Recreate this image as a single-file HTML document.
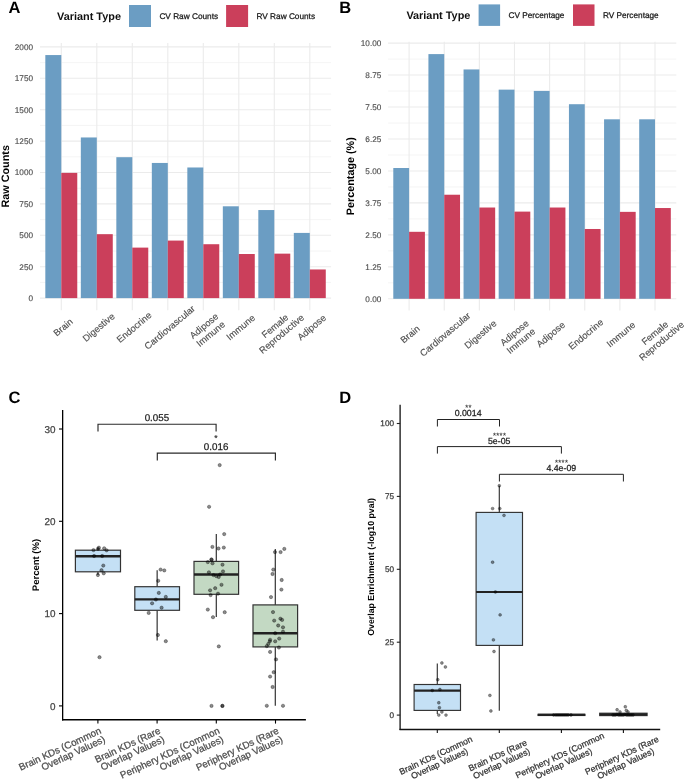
<!DOCTYPE html>
<html><head><meta charset="utf-8"><style>
html,body{margin:0;padding:0;background:#fff;}
svg{display:block;font-family:"Liberation Sans", sans-serif;will-change:transform;text-rendering:geometricPrecision;}
</style></head><body>
<svg width="685" height="780" viewBox="0 0 685 780">
<rect width="685" height="780" fill="#fff"/>
<line x1="40.0" x2="331.1" y1="282.40" y2="282.40" stroke="#ebebeb" stroke-width="0.55"/>
<line x1="40.0" x2="331.1" y1="251.00" y2="251.00" stroke="#ebebeb" stroke-width="0.55"/>
<line x1="40.0" x2="331.1" y1="219.60" y2="219.60" stroke="#ebebeb" stroke-width="0.55"/>
<line x1="40.0" x2="331.1" y1="188.20" y2="188.20" stroke="#ebebeb" stroke-width="0.55"/>
<line x1="40.0" x2="331.1" y1="156.80" y2="156.80" stroke="#ebebeb" stroke-width="0.55"/>
<line x1="40.0" x2="331.1" y1="125.40" y2="125.40" stroke="#ebebeb" stroke-width="0.55"/>
<line x1="40.0" x2="331.1" y1="94.00" y2="94.00" stroke="#ebebeb" stroke-width="0.55"/>
<line x1="40.0" x2="331.1" y1="62.60" y2="62.60" stroke="#ebebeb" stroke-width="0.55"/>
<line x1="40.0" x2="331.1" y1="298.10" y2="298.10" stroke="#ebebeb" stroke-width="1.1"/>
<line x1="40.0" x2="331.1" y1="266.70" y2="266.70" stroke="#ebebeb" stroke-width="1.1"/>
<line x1="40.0" x2="331.1" y1="235.30" y2="235.30" stroke="#ebebeb" stroke-width="1.1"/>
<line x1="40.0" x2="331.1" y1="203.90" y2="203.90" stroke="#ebebeb" stroke-width="1.1"/>
<line x1="40.0" x2="331.1" y1="172.50" y2="172.50" stroke="#ebebeb" stroke-width="1.1"/>
<line x1="40.0" x2="331.1" y1="141.10" y2="141.10" stroke="#ebebeb" stroke-width="1.1"/>
<line x1="40.0" x2="331.1" y1="109.70" y2="109.70" stroke="#ebebeb" stroke-width="1.1"/>
<line x1="40.0" x2="331.1" y1="78.30" y2="78.30" stroke="#ebebeb" stroke-width="1.1"/>
<line x1="40.0" x2="331.1" y1="46.90" y2="46.90" stroke="#ebebeb" stroke-width="1.1"/>
<line x1="61.30" x2="61.30" y1="42.9" y2="310.3" stroke="#ebebeb" stroke-width="1.1"/>
<line x1="96.80" x2="96.80" y1="42.9" y2="310.3" stroke="#ebebeb" stroke-width="1.1"/>
<line x1="132.30" x2="132.30" y1="42.9" y2="310.3" stroke="#ebebeb" stroke-width="1.1"/>
<line x1="167.80" x2="167.80" y1="42.9" y2="310.3" stroke="#ebebeb" stroke-width="1.1"/>
<line x1="203.30" x2="203.30" y1="42.9" y2="310.3" stroke="#ebebeb" stroke-width="1.1"/>
<line x1="238.80" x2="238.80" y1="42.9" y2="310.3" stroke="#ebebeb" stroke-width="1.1"/>
<line x1="274.30" x2="274.30" y1="42.9" y2="310.3" stroke="#ebebeb" stroke-width="1.1"/>
<line x1="309.80" x2="309.80" y1="42.9" y2="310.3" stroke="#ebebeb" stroke-width="1.1"/>
<rect x="45.32" y="55.06" width="15.97" height="243.04" fill="#6b9dc3"/>
<rect x="61.30" y="172.88" width="15.97" height="125.22" fill="#cb3f5b"/>
<rect x="80.83" y="137.46" width="15.97" height="160.64" fill="#6b9dc3"/>
<rect x="96.80" y="234.17" width="15.97" height="63.93" fill="#cb3f5b"/>
<rect x="116.33" y="157.18" width="15.97" height="140.92" fill="#6b9dc3"/>
<rect x="132.30" y="247.61" width="15.97" height="50.49" fill="#cb3f5b"/>
<rect x="151.83" y="162.95" width="15.97" height="135.15" fill="#6b9dc3"/>
<rect x="167.80" y="240.58" width="15.97" height="57.52" fill="#cb3f5b"/>
<rect x="187.33" y="167.48" width="15.97" height="130.62" fill="#6b9dc3"/>
<rect x="203.30" y="244.22" width="15.97" height="53.88" fill="#cb3f5b"/>
<rect x="222.83" y="206.29" width="15.97" height="91.81" fill="#6b9dc3"/>
<rect x="238.80" y="254.01" width="15.97" height="44.09" fill="#cb3f5b"/>
<rect x="258.32" y="210.05" width="15.97" height="88.05" fill="#6b9dc3"/>
<rect x="274.30" y="253.64" width="15.97" height="44.46" fill="#cb3f5b"/>
<rect x="293.82" y="232.91" width="15.97" height="65.19" fill="#6b9dc3"/>
<rect x="309.80" y="269.46" width="15.97" height="28.64" fill="#cb3f5b"/>
<text x="33.00" y="301.05" font-size="8.2" text-anchor="end" font-weight="normal" fill="#4d4d4d" stroke="#4d4d4d" stroke-width="0.14">0</text>
<text x="33.00" y="269.65" font-size="8.2" text-anchor="end" font-weight="normal" fill="#4d4d4d" stroke="#4d4d4d" stroke-width="0.14">250</text>
<text x="33.00" y="238.25" font-size="8.2" text-anchor="end" font-weight="normal" fill="#4d4d4d" stroke="#4d4d4d" stroke-width="0.14">500</text>
<text x="33.00" y="206.85" font-size="8.2" text-anchor="end" font-weight="normal" fill="#4d4d4d" stroke="#4d4d4d" stroke-width="0.14">750</text>
<text x="33.00" y="175.45" font-size="8.2" text-anchor="end" font-weight="normal" fill="#4d4d4d" stroke="#4d4d4d" stroke-width="0.14">1000</text>
<text x="33.00" y="144.05" font-size="8.2" text-anchor="end" font-weight="normal" fill="#4d4d4d" stroke="#4d4d4d" stroke-width="0.14">1250</text>
<text x="33.00" y="112.65" font-size="8.2" text-anchor="end" font-weight="normal" fill="#4d4d4d" stroke="#4d4d4d" stroke-width="0.14">1500</text>
<text x="33.00" y="81.25" font-size="8.2" text-anchor="end" font-weight="normal" fill="#4d4d4d" stroke="#4d4d4d" stroke-width="0.14">1750</text>
<text x="33.00" y="49.85" font-size="8.2" text-anchor="end" font-weight="normal" fill="#4d4d4d" stroke="#4d4d4d" stroke-width="0.14">2000</text>
<line x1="388.1" x2="676.3" y1="282.82" y2="282.82" stroke="#ebebeb" stroke-width="0.55"/>
<line x1="388.1" x2="676.3" y1="250.86" y2="250.86" stroke="#ebebeb" stroke-width="0.55"/>
<line x1="388.1" x2="676.3" y1="218.89" y2="218.89" stroke="#ebebeb" stroke-width="0.55"/>
<line x1="388.1" x2="676.3" y1="186.93" y2="186.93" stroke="#ebebeb" stroke-width="0.55"/>
<line x1="388.1" x2="676.3" y1="154.97" y2="154.97" stroke="#ebebeb" stroke-width="0.55"/>
<line x1="388.1" x2="676.3" y1="123.01" y2="123.01" stroke="#ebebeb" stroke-width="0.55"/>
<line x1="388.1" x2="676.3" y1="91.04" y2="91.04" stroke="#ebebeb" stroke-width="0.55"/>
<line x1="388.1" x2="676.3" y1="59.08" y2="59.08" stroke="#ebebeb" stroke-width="0.55"/>
<line x1="388.1" x2="676.3" y1="298.80" y2="298.80" stroke="#ebebeb" stroke-width="1.1"/>
<line x1="388.1" x2="676.3" y1="266.84" y2="266.84" stroke="#ebebeb" stroke-width="1.1"/>
<line x1="388.1" x2="676.3" y1="234.88" y2="234.88" stroke="#ebebeb" stroke-width="1.1"/>
<line x1="388.1" x2="676.3" y1="202.91" y2="202.91" stroke="#ebebeb" stroke-width="1.1"/>
<line x1="388.1" x2="676.3" y1="170.95" y2="170.95" stroke="#ebebeb" stroke-width="1.1"/>
<line x1="388.1" x2="676.3" y1="138.99" y2="138.99" stroke="#ebebeb" stroke-width="1.1"/>
<line x1="388.1" x2="676.3" y1="107.03" y2="107.03" stroke="#ebebeb" stroke-width="1.1"/>
<line x1="388.1" x2="676.3" y1="75.06" y2="75.06" stroke="#ebebeb" stroke-width="1.1"/>
<line x1="388.1" x2="676.3" y1="43.10" y2="43.10" stroke="#ebebeb" stroke-width="1.1"/>
<line x1="409.10" x2="409.10" y1="41.8" y2="310.5" stroke="#ebebeb" stroke-width="1.1"/>
<line x1="444.23" x2="444.23" y1="41.8" y2="310.5" stroke="#ebebeb" stroke-width="1.1"/>
<line x1="479.36" x2="479.36" y1="41.8" y2="310.5" stroke="#ebebeb" stroke-width="1.1"/>
<line x1="514.49" x2="514.49" y1="41.8" y2="310.5" stroke="#ebebeb" stroke-width="1.1"/>
<line x1="549.62" x2="549.62" y1="41.8" y2="310.5" stroke="#ebebeb" stroke-width="1.1"/>
<line x1="584.75" x2="584.75" y1="41.8" y2="310.5" stroke="#ebebeb" stroke-width="1.1"/>
<line x1="619.88" x2="619.88" y1="41.8" y2="310.5" stroke="#ebebeb" stroke-width="1.1"/>
<line x1="655.01" x2="655.01" y1="41.8" y2="310.5" stroke="#ebebeb" stroke-width="1.1"/>
<rect x="393.29" y="168.01" width="15.81" height="130.79" fill="#6b9dc3"/>
<rect x="409.10" y="231.81" width="15.81" height="66.99" fill="#cb3f5b"/>
<rect x="428.42" y="54.10" width="15.81" height="244.70" fill="#6b9dc3"/>
<rect x="444.23" y="194.73" width="15.81" height="104.07" fill="#cb3f5b"/>
<rect x="463.55" y="69.44" width="15.81" height="229.36" fill="#6b9dc3"/>
<rect x="479.36" y="207.52" width="15.81" height="91.28" fill="#cb3f5b"/>
<rect x="498.68" y="89.64" width="15.81" height="209.16" fill="#6b9dc3"/>
<rect x="514.49" y="211.61" width="15.81" height="87.19" fill="#cb3f5b"/>
<rect x="533.81" y="90.92" width="15.81" height="207.88" fill="#6b9dc3"/>
<rect x="549.62" y="207.52" width="15.81" height="91.28" fill="#cb3f5b"/>
<rect x="568.94" y="104.21" width="15.81" height="194.59" fill="#6b9dc3"/>
<rect x="584.75" y="228.99" width="15.81" height="69.81" fill="#cb3f5b"/>
<rect x="604.07" y="119.30" width="15.81" height="179.50" fill="#6b9dc3"/>
<rect x="619.88" y="211.86" width="15.81" height="86.94" fill="#cb3f5b"/>
<rect x="639.20" y="119.30" width="15.81" height="179.50" fill="#6b9dc3"/>
<rect x="655.01" y="208.03" width="15.81" height="90.77" fill="#cb3f5b"/>
<text x="381.30" y="301.75" font-size="8.2" text-anchor="end" font-weight="normal" fill="#4d4d4d" stroke="#4d4d4d" stroke-width="0.14">0.00</text>
<text x="381.30" y="269.79" font-size="8.2" text-anchor="end" font-weight="normal" fill="#4d4d4d" stroke="#4d4d4d" stroke-width="0.14">1.25</text>
<text x="381.30" y="237.82" font-size="8.2" text-anchor="end" font-weight="normal" fill="#4d4d4d" stroke="#4d4d4d" stroke-width="0.14">2.50</text>
<text x="381.30" y="205.86" font-size="8.2" text-anchor="end" font-weight="normal" fill="#4d4d4d" stroke="#4d4d4d" stroke-width="0.14">3.75</text>
<text x="381.30" y="173.90" font-size="8.2" text-anchor="end" font-weight="normal" fill="#4d4d4d" stroke="#4d4d4d" stroke-width="0.14">5.00</text>
<text x="381.30" y="141.94" font-size="8.2" text-anchor="end" font-weight="normal" fill="#4d4d4d" stroke="#4d4d4d" stroke-width="0.14">6.25</text>
<text x="381.30" y="109.98" font-size="8.2" text-anchor="end" font-weight="normal" fill="#4d4d4d" stroke="#4d4d4d" stroke-width="0.14">7.50</text>
<text x="381.30" y="78.01" font-size="8.2" text-anchor="end" font-weight="normal" fill="#4d4d4d" stroke="#4d4d4d" stroke-width="0.14">8.75</text>
<text x="381.30" y="46.05" font-size="8.2" text-anchor="end" font-weight="normal" fill="#4d4d4d" stroke="#4d4d4d" stroke-width="0.14">10.00</text>
<g transform="translate(60.64 324.39) rotate(-40)"><text x="0.00" y="7.05" font-size="9.4" text-anchor="middle" font-weight="normal" fill="#4d4d4d" stroke="#4d4d4d" stroke-width="0.14">Brain</text></g>
<g transform="translate(96.14 324.39) rotate(-40)"><text x="0.00" y="7.05" font-size="9.4" text-anchor="middle" font-weight="normal" fill="#4d4d4d" stroke="#4d4d4d" stroke-width="0.14">Digestive</text></g>
<g transform="translate(131.64 324.39) rotate(-40)"><text x="0.00" y="7.05" font-size="9.4" text-anchor="middle" font-weight="normal" fill="#4d4d4d" stroke="#4d4d4d" stroke-width="0.14">Endocrine</text></g>
<g transform="translate(167.14 324.39) rotate(-40)"><text x="0.00" y="7.05" font-size="9.4" text-anchor="middle" font-weight="normal" fill="#4d4d4d" stroke="#4d4d4d" stroke-width="0.14">Cardiovascular</text></g>
<g transform="translate(202.64 324.39) rotate(-40)"><text x="0.00" y="5.25" font-size="9.4" text-anchor="middle" font-weight="normal" fill="#4d4d4d" stroke="#4d4d4d" stroke-width="0.14">Adipose</text><text x="0.00" y="15.65" font-size="9.4" text-anchor="middle" font-weight="normal" fill="#4d4d4d" stroke="#4d4d4d" stroke-width="0.14">Immune</text></g>
<g transform="translate(238.14 324.39) rotate(-40)"><text x="0.00" y="7.05" font-size="9.4" text-anchor="middle" font-weight="normal" fill="#4d4d4d" stroke="#4d4d4d" stroke-width="0.14">Immune</text></g>
<g transform="translate(273.64 324.39) rotate(-40)"><text x="0.00" y="5.25" font-size="9.4" text-anchor="middle" font-weight="normal" fill="#4d4d4d" stroke="#4d4d4d" stroke-width="0.14">Female</text><text x="0.00" y="15.65" font-size="9.4" text-anchor="middle" font-weight="normal" fill="#4d4d4d" stroke="#4d4d4d" stroke-width="0.14">Reproductive</text></g>
<g transform="translate(309.14 324.39) rotate(-40)"><text x="0.00" y="7.05" font-size="9.4" text-anchor="middle" font-weight="normal" fill="#4d4d4d" stroke="#4d4d4d" stroke-width="0.14">Adipose</text></g>
<g transform="translate(407.64 331.39) rotate(-40)"><text x="0.00" y="7.05" font-size="9.4" text-anchor="middle" font-weight="normal" fill="#4d4d4d" stroke="#4d4d4d" stroke-width="0.14">Brain</text></g>
<g transform="translate(442.77 331.39) rotate(-40)"><text x="0.00" y="7.05" font-size="9.4" text-anchor="middle" font-weight="normal" fill="#4d4d4d" stroke="#4d4d4d" stroke-width="0.14">Cardiovascular</text></g>
<g transform="translate(477.90 331.39) rotate(-40)"><text x="0.00" y="7.05" font-size="9.4" text-anchor="middle" font-weight="normal" fill="#4d4d4d" stroke="#4d4d4d" stroke-width="0.14">Digestive</text></g>
<g transform="translate(513.03 331.39) rotate(-40)"><text x="0.00" y="5.25" font-size="9.4" text-anchor="middle" font-weight="normal" fill="#4d4d4d" stroke="#4d4d4d" stroke-width="0.14">Adipose</text><text x="0.00" y="15.65" font-size="9.4" text-anchor="middle" font-weight="normal" fill="#4d4d4d" stroke="#4d4d4d" stroke-width="0.14">Immune</text></g>
<g transform="translate(548.16 331.39) rotate(-40)"><text x="0.00" y="7.05" font-size="9.4" text-anchor="middle" font-weight="normal" fill="#4d4d4d" stroke="#4d4d4d" stroke-width="0.14">Adipose</text></g>
<g transform="translate(583.29 331.39) rotate(-40)"><text x="0.00" y="7.05" font-size="9.4" text-anchor="middle" font-weight="normal" fill="#4d4d4d" stroke="#4d4d4d" stroke-width="0.14">Endocrine</text></g>
<g transform="translate(618.42 331.39) rotate(-40)"><text x="0.00" y="7.05" font-size="9.4" text-anchor="middle" font-weight="normal" fill="#4d4d4d" stroke="#4d4d4d" stroke-width="0.14">Immune</text></g>
<g transform="translate(653.55 331.39) rotate(-40)"><text x="0.00" y="5.25" font-size="9.4" text-anchor="middle" font-weight="normal" fill="#4d4d4d" stroke="#4d4d4d" stroke-width="0.14">Female</text><text x="0.00" y="15.65" font-size="9.4" text-anchor="middle" font-weight="normal" fill="#4d4d4d" stroke="#4d4d4d" stroke-width="0.14">Reproductive</text></g>
<text x="8.70" y="176.30" font-size="10.8" text-anchor="middle" font-weight="bold" fill="#000" transform="rotate(-90 8.7 176.3)">Raw Counts</text>
<text x="354.20" y="176.20" font-size="10.8" text-anchor="middle" font-weight="bold" fill="#000" transform="rotate(-90 354.2 176.2)">Percentage (%)</text>
<text x="57.00" y="20.20" font-size="10.9" text-anchor="start" font-weight="bold" fill="#111">Variant Type</text>
<rect x="129.0" y="5.0" width="22" height="22" fill="#6b9dc3"/>
<text x="159.40" y="19.10" font-size="8.25" text-anchor="start" font-weight="normal" fill="#1a1a1a" stroke="#1a1a1a" stroke-width="0.25">CV Raw Counts</text>
<rect x="226.1" y="5.0" width="22" height="22" fill="#cb3f5b"/>
<text x="256.50" y="19.10" font-size="8.25" text-anchor="start" font-weight="normal" fill="#1a1a1a" stroke="#1a1a1a" stroke-width="0.25">RV Raw Counts</text>
<text x="406.40" y="19.00" font-size="10.9" text-anchor="start" font-weight="bold" fill="#111">Variant Type</text>
<rect x="478.6" y="4.4" width="21.5" height="21.5" fill="#6b9dc3"/>
<text x="508.50" y="18.20" font-size="8.25" text-anchor="start" font-weight="normal" fill="#1a1a1a" stroke="#1a1a1a" stroke-width="0.25">CV Percentage</text>
<rect x="573.0" y="4.4" width="21.5" height="21.5" fill="#cb3f5b"/>
<text x="602.90" y="18.20" font-size="8.25" text-anchor="start" font-weight="normal" fill="#1a1a1a" stroke="#1a1a1a" stroke-width="0.25">RV Percentage</text>
<text x="8.60" y="13.20" font-size="16.5" text-anchor="start" font-weight="bold" fill="#000">A</text>
<text x="339.20" y="13.20" font-size="16.5" text-anchor="start" font-weight="bold" fill="#000">B</text>
<text x="8.60" y="403.20" font-size="16.5" text-anchor="start" font-weight="bold" fill="#000">C</text>
<text x="339.20" y="403.20" font-size="16.5" text-anchor="start" font-weight="bold" fill="#000">D</text>
<line x1="62.65" x2="62.65" y1="410.1" y2="720.4" stroke="#000" stroke-width="1.3"/>
<line x1="62.0" x2="305.9" y1="719.75" y2="719.75" stroke="#000" stroke-width="1.4"/>
<line x1="59.0" x2="62.6" y1="705.90" y2="705.90" stroke="#000" stroke-width="1.1"/>
<text x="55.60" y="709.50" font-size="9.9" text-anchor="end" font-weight="normal" fill="#444" stroke="#444" stroke-width="0.25">0</text>
<line x1="59.0" x2="62.6" y1="613.60" y2="613.60" stroke="#000" stroke-width="1.1"/>
<text x="55.60" y="617.20" font-size="9.9" text-anchor="end" font-weight="normal" fill="#444" stroke="#444" stroke-width="0.25">10</text>
<line x1="59.0" x2="62.6" y1="521.30" y2="521.30" stroke="#000" stroke-width="1.1"/>
<text x="55.60" y="524.90" font-size="9.9" text-anchor="end" font-weight="normal" fill="#444" stroke="#444" stroke-width="0.25">20</text>
<line x1="59.0" x2="62.6" y1="429.00" y2="429.00" stroke="#000" stroke-width="1.1"/>
<text x="55.60" y="432.60" font-size="9.9" text-anchor="end" font-weight="normal" fill="#444" stroke="#444" stroke-width="0.25">30</text>
<line x1="97.9" x2="97.9" y1="719.6" y2="723.6" stroke="#000" stroke-width="1.1"/>
<line x1="157.1" x2="157.1" y1="719.6" y2="723.6" stroke="#000" stroke-width="1.1"/>
<line x1="216.3" x2="216.3" y1="719.6" y2="723.6" stroke="#000" stroke-width="1.1"/>
<line x1="275.5" x2="275.5" y1="719.6" y2="723.6" stroke="#000" stroke-width="1.1"/>
<line x1="97.95" x2="97.95" y1="547.70" y2="550.20" stroke="#333333" stroke-width="1.2"/>
<line x1="97.95" x2="97.95" y1="571.80" y2="575.00" stroke="#333333" stroke-width="1.2"/>
<rect x="75.40" y="550.20" width="45.10" height="21.60" fill="#c4e0f5" stroke="#333333" stroke-width="1.2"/>
<line x1="75.40" x2="120.50" y1="556.30" y2="556.30" stroke="#222" stroke-width="2.4"/>
<line x1="157.15" x2="157.15" y1="570.20" y2="586.70" stroke="#333333" stroke-width="1.2"/>
<line x1="157.15" x2="157.15" y1="610.30" y2="640.60" stroke="#333333" stroke-width="1.2"/>
<rect x="134.80" y="586.70" width="44.70" height="23.60" fill="#c4e0f5" stroke="#333333" stroke-width="1.2"/>
<line x1="134.80" x2="179.50" y1="599.40" y2="599.40" stroke="#222" stroke-width="2.4"/>
<line x1="216.30" x2="216.30" y1="534.10" y2="561.40" stroke="#333333" stroke-width="1.2"/>
<line x1="216.30" x2="216.30" y1="594.30" y2="617.00" stroke="#333333" stroke-width="1.2"/>
<rect x="194.00" y="561.40" width="44.60" height="32.90" fill="#c3d9c3" stroke="#333333" stroke-width="1.2"/>
<line x1="194.00" x2="238.60" y1="574.50" y2="574.50" stroke="#222" stroke-width="2.4"/>
<line x1="275.30" x2="275.30" y1="548.90" y2="604.90" stroke="#333333" stroke-width="1.2"/>
<line x1="275.30" x2="275.30" y1="646.90" y2="705.80" stroke="#333333" stroke-width="1.2"/>
<rect x="253.00" y="604.90" width="44.60" height="42.00" fill="#c3d9c3" stroke="#333333" stroke-width="1.2"/>
<line x1="253.00" x2="297.60" y1="633.20" y2="633.20" stroke="#222" stroke-width="2.4"/>
<circle cx="93.50" cy="550.10" r="1.65" fill="rgba(0,0,0,0.45)" stroke="rgba(0,0,0,0.45)" stroke-width="0.7"/>
<circle cx="98.90" cy="547.70" r="1.65" fill="rgba(0,0,0,0.45)" stroke="rgba(0,0,0,0.45)" stroke-width="0.7"/>
<circle cx="98.00" cy="548.80" r="1.65" fill="rgba(0,0,0,0.45)" stroke="rgba(0,0,0,0.45)" stroke-width="0.7"/>
<circle cx="104.20" cy="548.30" r="1.65" fill="rgba(0,0,0,0.45)" stroke="rgba(0,0,0,0.45)" stroke-width="0.7"/>
<circle cx="106.60" cy="550.30" r="1.65" fill="rgba(0,0,0,0.45)" stroke="rgba(0,0,0,0.45)" stroke-width="0.7"/>
<circle cx="94.10" cy="556.00" r="1.65" fill="rgba(0,0,0,0.45)" stroke="rgba(0,0,0,0.45)" stroke-width="0.7"/>
<circle cx="102.20" cy="556.00" r="1.65" fill="rgba(0,0,0,0.45)" stroke="rgba(0,0,0,0.45)" stroke-width="0.7"/>
<circle cx="103.30" cy="565.60" r="1.65" fill="rgba(0,0,0,0.45)" stroke="rgba(0,0,0,0.45)" stroke-width="0.7"/>
<circle cx="101.50" cy="570.20" r="1.65" fill="rgba(0,0,0,0.45)" stroke="rgba(0,0,0,0.45)" stroke-width="0.7"/>
<circle cx="103.70" cy="573.30" r="1.65" fill="rgba(0,0,0,0.45)" stroke="rgba(0,0,0,0.45)" stroke-width="0.7"/>
<circle cx="97.90" cy="575.00" r="1.65" fill="rgba(0,0,0,0.45)" stroke="rgba(0,0,0,0.45)" stroke-width="0.7"/>
<circle cx="99.50" cy="657.20" r="1.65" fill="rgba(0,0,0,0.45)" stroke="rgba(0,0,0,0.45)" stroke-width="0.7"/>
<circle cx="160.60" cy="569.60" r="1.65" fill="rgba(0,0,0,0.45)" stroke="rgba(0,0,0,0.45)" stroke-width="0.7"/>
<circle cx="164.30" cy="570.40" r="1.65" fill="rgba(0,0,0,0.45)" stroke="rgba(0,0,0,0.45)" stroke-width="0.7"/>
<circle cx="158.20" cy="580.80" r="1.65" fill="rgba(0,0,0,0.45)" stroke="rgba(0,0,0,0.45)" stroke-width="0.7"/>
<circle cx="158.80" cy="592.90" r="1.65" fill="rgba(0,0,0,0.45)" stroke="rgba(0,0,0,0.45)" stroke-width="0.7"/>
<circle cx="165.80" cy="596.90" r="1.65" fill="rgba(0,0,0,0.45)" stroke="rgba(0,0,0,0.45)" stroke-width="0.7"/>
<circle cx="155.90" cy="599.50" r="1.65" fill="rgba(0,0,0,0.45)" stroke="rgba(0,0,0,0.45)" stroke-width="0.7"/>
<circle cx="152.10" cy="603.30" r="1.65" fill="rgba(0,0,0,0.45)" stroke="rgba(0,0,0,0.45)" stroke-width="0.7"/>
<circle cx="161.60" cy="607.70" r="1.65" fill="rgba(0,0,0,0.45)" stroke="rgba(0,0,0,0.45)" stroke-width="0.7"/>
<circle cx="148.70" cy="612.90" r="1.65" fill="rgba(0,0,0,0.45)" stroke="rgba(0,0,0,0.45)" stroke-width="0.7"/>
<circle cx="157.90" cy="635.00" r="1.65" fill="rgba(0,0,0,0.45)" stroke="rgba(0,0,0,0.45)" stroke-width="0.7"/>
<circle cx="165.80" cy="641.20" r="1.65" fill="rgba(0,0,0,0.45)" stroke="rgba(0,0,0,0.45)" stroke-width="0.7"/>
<circle cx="219.70" cy="465.10" r="1.65" fill="rgba(0,0,0,0.45)" stroke="rgba(0,0,0,0.45)" stroke-width="0.7"/>
<circle cx="209.10" cy="506.80" r="1.65" fill="rgba(0,0,0,0.45)" stroke="rgba(0,0,0,0.45)" stroke-width="0.7"/>
<circle cx="224.20" cy="534.10" r="1.65" fill="rgba(0,0,0,0.45)" stroke="rgba(0,0,0,0.45)" stroke-width="0.7"/>
<circle cx="212.40" cy="546.90" r="1.65" fill="rgba(0,0,0,0.45)" stroke="rgba(0,0,0,0.45)" stroke-width="0.7"/>
<circle cx="218.50" cy="548.50" r="1.65" fill="rgba(0,0,0,0.45)" stroke="rgba(0,0,0,0.45)" stroke-width="0.7"/>
<circle cx="223.80" cy="547.60" r="1.65" fill="rgba(0,0,0,0.45)" stroke="rgba(0,0,0,0.45)" stroke-width="0.7"/>
<circle cx="211.40" cy="559.40" r="1.65" fill="rgba(0,0,0,0.45)" stroke="rgba(0,0,0,0.45)" stroke-width="0.7"/>
<circle cx="211.60" cy="559.80" r="1.65" fill="rgba(0,0,0,0.45)" stroke="rgba(0,0,0,0.45)" stroke-width="0.7"/>
<circle cx="207.80" cy="562.10" r="1.65" fill="rgba(0,0,0,0.45)" stroke="rgba(0,0,0,0.45)" stroke-width="0.7"/>
<circle cx="212.50" cy="563.30" r="1.65" fill="rgba(0,0,0,0.45)" stroke="rgba(0,0,0,0.45)" stroke-width="0.7"/>
<circle cx="222.50" cy="564.70" r="1.65" fill="rgba(0,0,0,0.45)" stroke="rgba(0,0,0,0.45)" stroke-width="0.7"/>
<circle cx="208.90" cy="572.30" r="1.65" fill="rgba(0,0,0,0.45)" stroke="rgba(0,0,0,0.45)" stroke-width="0.7"/>
<circle cx="223.00" cy="571.40" r="1.65" fill="rgba(0,0,0,0.45)" stroke="rgba(0,0,0,0.45)" stroke-width="0.7"/>
<circle cx="213.50" cy="575.10" r="1.65" fill="rgba(0,0,0,0.45)" stroke="rgba(0,0,0,0.45)" stroke-width="0.7"/>
<circle cx="216.30" cy="576.10" r="1.65" fill="rgba(0,0,0,0.45)" stroke="rgba(0,0,0,0.45)" stroke-width="0.7"/>
<circle cx="220.10" cy="574.50" r="1.65" fill="rgba(0,0,0,0.45)" stroke="rgba(0,0,0,0.45)" stroke-width="0.7"/>
<circle cx="218.70" cy="577.00" r="1.65" fill="rgba(0,0,0,0.45)" stroke="rgba(0,0,0,0.45)" stroke-width="0.7"/>
<circle cx="221.50" cy="584.80" r="1.65" fill="rgba(0,0,0,0.45)" stroke="rgba(0,0,0,0.45)" stroke-width="0.7"/>
<circle cx="215.20" cy="588.20" r="1.65" fill="rgba(0,0,0,0.45)" stroke="rgba(0,0,0,0.45)" stroke-width="0.7"/>
<circle cx="210.10" cy="590.30" r="1.65" fill="rgba(0,0,0,0.45)" stroke="rgba(0,0,0,0.45)" stroke-width="0.7"/>
<circle cx="210.60" cy="595.10" r="1.65" fill="rgba(0,0,0,0.45)" stroke="rgba(0,0,0,0.45)" stroke-width="0.7"/>
<circle cx="218.00" cy="593.70" r="1.65" fill="rgba(0,0,0,0.45)" stroke="rgba(0,0,0,0.45)" stroke-width="0.7"/>
<circle cx="207.80" cy="609.60" r="1.65" fill="rgba(0,0,0,0.45)" stroke="rgba(0,0,0,0.45)" stroke-width="0.7"/>
<circle cx="224.70" cy="612.20" r="1.65" fill="rgba(0,0,0,0.45)" stroke="rgba(0,0,0,0.45)" stroke-width="0.7"/>
<circle cx="213.00" cy="617.20" r="1.65" fill="rgba(0,0,0,0.45)" stroke="rgba(0,0,0,0.45)" stroke-width="0.7"/>
<circle cx="218.80" cy="646.40" r="1.65" fill="rgba(0,0,0,0.45)" stroke="rgba(0,0,0,0.45)" stroke-width="0.7"/>
<circle cx="211.50" cy="705.90" r="1.65" fill="rgba(0,0,0,0.45)" stroke="rgba(0,0,0,0.45)" stroke-width="0.7"/>
<circle cx="222.40" cy="705.90" r="1.65" fill="rgba(0,0,0,0.45)" stroke="rgba(0,0,0,0.45)" stroke-width="0.7"/>
<circle cx="222.40" cy="705.90" r="1.65" fill="rgba(0,0,0,0.45)" stroke="rgba(0,0,0,0.45)" stroke-width="0.7"/>
<circle cx="275.00" cy="552.10" r="1.65" fill="rgba(0,0,0,0.45)" stroke="rgba(0,0,0,0.45)" stroke-width="0.7"/>
<circle cx="280.60" cy="552.10" r="1.65" fill="rgba(0,0,0,0.45)" stroke="rgba(0,0,0,0.45)" stroke-width="0.7"/>
<circle cx="284.30" cy="548.90" r="1.65" fill="rgba(0,0,0,0.45)" stroke="rgba(0,0,0,0.45)" stroke-width="0.7"/>
<circle cx="273.30" cy="569.60" r="1.65" fill="rgba(0,0,0,0.45)" stroke="rgba(0,0,0,0.45)" stroke-width="0.7"/>
<circle cx="272.50" cy="574.00" r="1.65" fill="rgba(0,0,0,0.45)" stroke="rgba(0,0,0,0.45)" stroke-width="0.7"/>
<circle cx="281.70" cy="580.00" r="1.65" fill="rgba(0,0,0,0.45)" stroke="rgba(0,0,0,0.45)" stroke-width="0.7"/>
<circle cx="281.40" cy="589.60" r="1.65" fill="rgba(0,0,0,0.45)" stroke="rgba(0,0,0,0.45)" stroke-width="0.7"/>
<circle cx="271.00" cy="597.10" r="1.65" fill="rgba(0,0,0,0.45)" stroke="rgba(0,0,0,0.45)" stroke-width="0.7"/>
<circle cx="273.00" cy="612.10" r="1.65" fill="rgba(0,0,0,0.45)" stroke="rgba(0,0,0,0.45)" stroke-width="0.7"/>
<circle cx="274.20" cy="620.60" r="1.65" fill="rgba(0,0,0,0.45)" stroke="rgba(0,0,0,0.45)" stroke-width="0.7"/>
<circle cx="280.40" cy="618.70" r="1.65" fill="rgba(0,0,0,0.45)" stroke="rgba(0,0,0,0.45)" stroke-width="0.7"/>
<circle cx="282.10" cy="619.90" r="1.65" fill="rgba(0,0,0,0.45)" stroke="rgba(0,0,0,0.45)" stroke-width="0.7"/>
<circle cx="278.20" cy="625.50" r="1.65" fill="rgba(0,0,0,0.45)" stroke="rgba(0,0,0,0.45)" stroke-width="0.7"/>
<circle cx="283.00" cy="627.30" r="1.65" fill="rgba(0,0,0,0.45)" stroke="rgba(0,0,0,0.45)" stroke-width="0.7"/>
<circle cx="283.00" cy="631.70" r="1.65" fill="rgba(0,0,0,0.45)" stroke="rgba(0,0,0,0.45)" stroke-width="0.7"/>
<circle cx="275.20" cy="633.20" r="1.65" fill="rgba(0,0,0,0.45)" stroke="rgba(0,0,0,0.45)" stroke-width="0.7"/>
<circle cx="279.20" cy="638.60" r="1.65" fill="rgba(0,0,0,0.45)" stroke="rgba(0,0,0,0.45)" stroke-width="0.7"/>
<circle cx="275.20" cy="641.30" r="1.65" fill="rgba(0,0,0,0.45)" stroke="rgba(0,0,0,0.45)" stroke-width="0.7"/>
<circle cx="270.10" cy="639.80" r="1.65" fill="rgba(0,0,0,0.45)" stroke="rgba(0,0,0,0.45)" stroke-width="0.7"/>
<circle cx="269.80" cy="641.30" r="1.65" fill="rgba(0,0,0,0.45)" stroke="rgba(0,0,0,0.45)" stroke-width="0.7"/>
<circle cx="268.30" cy="643.90" r="1.65" fill="rgba(0,0,0,0.45)" stroke="rgba(0,0,0,0.45)" stroke-width="0.7"/>
<circle cx="266.80" cy="646.10" r="1.65" fill="rgba(0,0,0,0.45)" stroke="rgba(0,0,0,0.45)" stroke-width="0.7"/>
<circle cx="278.90" cy="647.50" r="1.65" fill="rgba(0,0,0,0.45)" stroke="rgba(0,0,0,0.45)" stroke-width="0.7"/>
<circle cx="270.10" cy="651.90" r="1.65" fill="rgba(0,0,0,0.45)" stroke="rgba(0,0,0,0.45)" stroke-width="0.7"/>
<circle cx="276.00" cy="659.40" r="1.65" fill="rgba(0,0,0,0.45)" stroke="rgba(0,0,0,0.45)" stroke-width="0.7"/>
<circle cx="273.70" cy="672.20" r="1.65" fill="rgba(0,0,0,0.45)" stroke="rgba(0,0,0,0.45)" stroke-width="0.7"/>
<circle cx="270.10" cy="676.60" r="1.65" fill="rgba(0,0,0,0.45)" stroke="rgba(0,0,0,0.45)" stroke-width="0.7"/>
<circle cx="272.60" cy="687.00" r="1.65" fill="rgba(0,0,0,0.45)" stroke="rgba(0,0,0,0.45)" stroke-width="0.7"/>
<circle cx="266.80" cy="705.80" r="1.65" fill="rgba(0,0,0,0.45)" stroke="rgba(0,0,0,0.45)" stroke-width="0.7"/>
<circle cx="283.00" cy="705.80" r="1.65" fill="rgba(0,0,0,0.45)" stroke="rgba(0,0,0,0.45)" stroke-width="0.7"/>
<path d="M98.0,431.5 V424.2 H216.1 V431.5" fill="none" stroke="#2a2a2a" stroke-width="1.15"/>
<text x="156.90" y="421.30" font-size="9.8" text-anchor="middle" font-weight="normal" fill="#222" stroke="#222" stroke-width="0.25">0.055</text>
<path d="M157.3,460.6 V453.1 H275.4 V460.6" fill="none" stroke="#2a2a2a" stroke-width="1.15"/>
<text x="216.10" y="450.10" font-size="9.8" text-anchor="middle" font-weight="normal" fill="#222" stroke="#222" stroke-width="0.25">0.016</text>
<text x="216.00" y="441.00" font-size="8.6" text-anchor="middle" font-weight="500" fill="#333" stroke="#333" stroke-width="0.2">*</text>
<text x="39.10" y="565.00" font-size="9.5" text-anchor="middle" font-weight="bold" fill="#000" transform="rotate(-90 39.1 565.0)">Percent (%)</text>
<g transform="translate(101.90 733.00) rotate(-25)"><text x="0.00" y="0.00" font-size="9.75" text-anchor="end" font-weight="normal" fill="#4d4d4d" stroke="#4d4d4d" stroke-width="0.25">Brain KDs (Common</text><text x="0.00" y="9.50" font-size="9.75" text-anchor="end" font-weight="normal" fill="#4d4d4d" stroke="#4d4d4d" stroke-width="0.25">Overlap Values)</text></g>
<g transform="translate(161.10 733.00) rotate(-25)"><text x="0.00" y="0.00" font-size="9.75" text-anchor="end" font-weight="normal" fill="#4d4d4d" stroke="#4d4d4d" stroke-width="0.25">Brain KDs (Rare</text><text x="0.00" y="9.50" font-size="9.75" text-anchor="end" font-weight="normal" fill="#4d4d4d" stroke="#4d4d4d" stroke-width="0.25">Overlap Values)</text></g>
<g transform="translate(220.30 733.00) rotate(-25)"><text x="0.00" y="0.00" font-size="9.75" text-anchor="end" font-weight="normal" fill="#4d4d4d" stroke="#4d4d4d" stroke-width="0.25">Periphery KDs (Common</text><text x="0.00" y="9.50" font-size="9.75" text-anchor="end" font-weight="normal" fill="#4d4d4d" stroke="#4d4d4d" stroke-width="0.25">Overlap Values)</text></g>
<g transform="translate(279.50 733.00) rotate(-25)"><text x="0.00" y="0.00" font-size="9.75" text-anchor="end" font-weight="normal" fill="#4d4d4d" stroke="#4d4d4d" stroke-width="0.25">Periphery KDs (Rare</text><text x="0.00" y="9.50" font-size="9.75" text-anchor="end" font-weight="normal" fill="#4d4d4d" stroke="#4d4d4d" stroke-width="0.25">Overlap Values)</text></g>
<line x1="400.1" x2="400.1" y1="404.8" y2="730.1" stroke="#111" stroke-width="1.3"/>
<line x1="399.5" x2="660.2" y1="729.5" y2="729.5" stroke="#111" stroke-width="1.3"/>
<line x1="396.8" x2="400.1" y1="715.10" y2="715.10" stroke="#222" stroke-width="1.1"/>
<text x="394.00" y="718.05" font-size="8.2" text-anchor="end" font-weight="normal" fill="#3a3a3a" stroke="#3a3a3a" stroke-width="0.25">0</text>
<line x1="396.8" x2="400.1" y1="642.20" y2="642.20" stroke="#222" stroke-width="1.1"/>
<text x="394.00" y="645.15" font-size="8.2" text-anchor="end" font-weight="normal" fill="#3a3a3a" stroke="#3a3a3a" stroke-width="0.25">25</text>
<line x1="396.8" x2="400.1" y1="569.30" y2="569.30" stroke="#222" stroke-width="1.1"/>
<text x="394.00" y="572.25" font-size="8.2" text-anchor="end" font-weight="normal" fill="#3a3a3a" stroke="#3a3a3a" stroke-width="0.25">50</text>
<line x1="396.8" x2="400.1" y1="496.40" y2="496.40" stroke="#222" stroke-width="1.1"/>
<text x="394.00" y="499.35" font-size="8.2" text-anchor="end" font-weight="normal" fill="#3a3a3a" stroke="#3a3a3a" stroke-width="0.25">75</text>
<line x1="396.8" x2="400.1" y1="423.50" y2="423.50" stroke="#222" stroke-width="1.1"/>
<text x="394.00" y="426.45" font-size="8.2" text-anchor="end" font-weight="normal" fill="#3a3a3a" stroke="#3a3a3a" stroke-width="0.25">100</text>
<line x1="437.3" x2="437.3" y1="729.5" y2="733.0" stroke="#111" stroke-width="1.1"/>
<line x1="499.3" x2="499.3" y1="729.5" y2="733.0" stroke="#111" stroke-width="1.1"/>
<line x1="561.4" x2="561.4" y1="729.5" y2="733.0" stroke="#111" stroke-width="1.1"/>
<line x1="623.4" x2="623.4" y1="729.5" y2="733.0" stroke="#111" stroke-width="1.1"/>
<line x1="437.30" x2="437.30" y1="663.40" y2="684.50" stroke="#333333" stroke-width="1.15"/>
<line x1="437.30" x2="437.30" y1="710.40" y2="714.00" stroke="#333333" stroke-width="1.15"/>
<rect x="414.10" y="684.50" width="46.40" height="25.90" fill="#c4e0f5" stroke="#333333" stroke-width="1.15"/>
<line x1="414.10" x2="460.50" y1="690.60" y2="690.60" stroke="#222" stroke-width="2.1"/>
<line x1="499.30" x2="499.30" y1="485.80" y2="512.40" stroke="#333333" stroke-width="1.15"/>
<line x1="499.30" x2="499.30" y1="645.40" y2="710.80" stroke="#333333" stroke-width="1.15"/>
<rect x="476.10" y="512.40" width="46.40" height="133.00" fill="#c4e0f5" stroke="#333333" stroke-width="1.15"/>
<line x1="476.10" x2="522.50" y1="592.00" y2="592.00" stroke="#222" stroke-width="2.1"/>
<line x1="561.50" x2="561.50" y1="714.30" y2="714.30" stroke="#333333" stroke-width="1.15"/>
<line x1="561.50" x2="561.50" y1="715.50" y2="715.50" stroke="#333333" stroke-width="1.15"/>
<rect x="538.00" y="714.30" width="47.00" height="1.20" fill="#c4e0f5" stroke="#333333" stroke-width="1.15"/>
<line x1="538.00" x2="585.00" y1="714.90" y2="714.90" stroke="#222" stroke-width="2.1"/>
<line x1="623.40" x2="623.40" y1="713.00" y2="713.20" stroke="#333333" stroke-width="1.15"/>
<line x1="623.40" x2="623.40" y1="715.60" y2="715.80" stroke="#333333" stroke-width="1.15"/>
<rect x="599.70" y="713.20" width="47.40" height="2.40" fill="#c4e0f5" stroke="#333333" stroke-width="1.15"/>
<line x1="599.70" x2="647.10" y1="714.40" y2="714.40" stroke="#222" stroke-width="2.1"/>
<circle cx="441.90" cy="663.00" r="1.45" fill="rgba(0,0,0,0.45)" stroke="rgba(0,0,0,0.45)" stroke-width="0.6"/>
<circle cx="445.40" cy="667.00" r="1.45" fill="rgba(0,0,0,0.45)" stroke="rgba(0,0,0,0.45)" stroke-width="0.6"/>
<circle cx="437.80" cy="679.70" r="1.45" fill="rgba(0,0,0,0.45)" stroke="rgba(0,0,0,0.45)" stroke-width="0.6"/>
<circle cx="432.30" cy="690.50" r="1.45" fill="rgba(0,0,0,0.45)" stroke="rgba(0,0,0,0.45)" stroke-width="0.6"/>
<circle cx="439.90" cy="689.50" r="1.45" fill="rgba(0,0,0,0.45)" stroke="rgba(0,0,0,0.45)" stroke-width="0.6"/>
<circle cx="438.80" cy="702.80" r="1.45" fill="rgba(0,0,0,0.45)" stroke="rgba(0,0,0,0.45)" stroke-width="0.6"/>
<circle cx="439.40" cy="707.70" r="1.45" fill="rgba(0,0,0,0.45)" stroke="rgba(0,0,0,0.45)" stroke-width="0.6"/>
<circle cx="441.90" cy="712.00" r="1.45" fill="rgba(0,0,0,0.45)" stroke="rgba(0,0,0,0.45)" stroke-width="0.6"/>
<circle cx="438.80" cy="715.10" r="1.45" fill="rgba(0,0,0,0.45)" stroke="rgba(0,0,0,0.45)" stroke-width="0.6"/>
<circle cx="446.00" cy="715.10" r="1.45" fill="rgba(0,0,0,0.45)" stroke="rgba(0,0,0,0.45)" stroke-width="0.6"/>
<circle cx="499.30" cy="485.80" r="1.45" fill="rgba(0,0,0,0.45)" stroke="rgba(0,0,0,0.45)" stroke-width="0.6"/>
<circle cx="492.60" cy="508.60" r="1.45" fill="rgba(0,0,0,0.45)" stroke="rgba(0,0,0,0.45)" stroke-width="0.6"/>
<circle cx="499.80" cy="508.60" r="1.45" fill="rgba(0,0,0,0.45)" stroke="rgba(0,0,0,0.45)" stroke-width="0.6"/>
<circle cx="504.00" cy="515.40" r="1.45" fill="rgba(0,0,0,0.45)" stroke="rgba(0,0,0,0.45)" stroke-width="0.6"/>
<circle cx="492.60" cy="562.20" r="1.45" fill="rgba(0,0,0,0.45)" stroke="rgba(0,0,0,0.45)" stroke-width="0.6"/>
<circle cx="495.40" cy="592.00" r="1.45" fill="rgba(0,0,0,0.45)" stroke="rgba(0,0,0,0.45)" stroke-width="0.6"/>
<circle cx="500.10" cy="614.90" r="1.45" fill="rgba(0,0,0,0.45)" stroke="rgba(0,0,0,0.45)" stroke-width="0.6"/>
<circle cx="493.40" cy="639.90" r="1.45" fill="rgba(0,0,0,0.45)" stroke="rgba(0,0,0,0.45)" stroke-width="0.6"/>
<circle cx="494.00" cy="651.50" r="1.45" fill="rgba(0,0,0,0.45)" stroke="rgba(0,0,0,0.45)" stroke-width="0.6"/>
<circle cx="489.90" cy="695.40" r="1.45" fill="rgba(0,0,0,0.45)" stroke="rgba(0,0,0,0.45)" stroke-width="0.6"/>
<circle cx="490.90" cy="711.00" r="1.45" fill="rgba(0,0,0,0.45)" stroke="rgba(0,0,0,0.45)" stroke-width="0.6"/>
<circle cx="553.70" cy="715.00" r="1.45" fill="rgba(0,0,0,0.45)" stroke="rgba(0,0,0,0.45)" stroke-width="0.6"/>
<circle cx="556.00" cy="715.00" r="1.45" fill="rgba(0,0,0,0.45)" stroke="rgba(0,0,0,0.45)" stroke-width="0.6"/>
<circle cx="558.00" cy="715.00" r="1.45" fill="rgba(0,0,0,0.45)" stroke="rgba(0,0,0,0.45)" stroke-width="0.6"/>
<circle cx="560.00" cy="715.00" r="1.45" fill="rgba(0,0,0,0.45)" stroke="rgba(0,0,0,0.45)" stroke-width="0.6"/>
<circle cx="562.00" cy="715.00" r="1.45" fill="rgba(0,0,0,0.45)" stroke="rgba(0,0,0,0.45)" stroke-width="0.6"/>
<circle cx="564.00" cy="715.00" r="1.45" fill="rgba(0,0,0,0.45)" stroke="rgba(0,0,0,0.45)" stroke-width="0.6"/>
<circle cx="566.00" cy="715.00" r="1.45" fill="rgba(0,0,0,0.45)" stroke="rgba(0,0,0,0.45)" stroke-width="0.6"/>
<circle cx="568.00" cy="715.00" r="1.45" fill="rgba(0,0,0,0.45)" stroke="rgba(0,0,0,0.45)" stroke-width="0.6"/>
<circle cx="571.00" cy="715.00" r="1.45" fill="rgba(0,0,0,0.45)" stroke="rgba(0,0,0,0.45)" stroke-width="0.6"/>
<circle cx="613.00" cy="715.00" r="1.45" fill="rgba(0,0,0,0.45)" stroke="rgba(0,0,0,0.45)" stroke-width="0.6"/>
<circle cx="615.00" cy="715.00" r="1.45" fill="rgba(0,0,0,0.45)" stroke="rgba(0,0,0,0.45)" stroke-width="0.6"/>
<circle cx="617.00" cy="714.50" r="1.45" fill="rgba(0,0,0,0.45)" stroke="rgba(0,0,0,0.45)" stroke-width="0.6"/>
<circle cx="619.00" cy="715.00" r="1.45" fill="rgba(0,0,0,0.45)" stroke="rgba(0,0,0,0.45)" stroke-width="0.6"/>
<circle cx="621.00" cy="715.00" r="1.45" fill="rgba(0,0,0,0.45)" stroke="rgba(0,0,0,0.45)" stroke-width="0.6"/>
<circle cx="623.00" cy="715.00" r="1.45" fill="rgba(0,0,0,0.45)" stroke="rgba(0,0,0,0.45)" stroke-width="0.6"/>
<circle cx="625.00" cy="714.50" r="1.45" fill="rgba(0,0,0,0.45)" stroke="rgba(0,0,0,0.45)" stroke-width="0.6"/>
<circle cx="627.00" cy="715.00" r="1.45" fill="rgba(0,0,0,0.45)" stroke="rgba(0,0,0,0.45)" stroke-width="0.6"/>
<circle cx="629.00" cy="715.00" r="1.45" fill="rgba(0,0,0,0.45)" stroke="rgba(0,0,0,0.45)" stroke-width="0.6"/>
<circle cx="631.00" cy="715.00" r="1.45" fill="rgba(0,0,0,0.45)" stroke="rgba(0,0,0,0.45)" stroke-width="0.6"/>
<circle cx="633.00" cy="715.00" r="1.45" fill="rgba(0,0,0,0.45)" stroke="rgba(0,0,0,0.45)" stroke-width="0.6"/>
<circle cx="617.10" cy="709.80" r="1.45" fill="rgba(0,0,0,0.45)" stroke="rgba(0,0,0,0.45)" stroke-width="0.6"/>
<circle cx="625.30" cy="706.80" r="1.45" fill="rgba(0,0,0,0.45)" stroke="rgba(0,0,0,0.45)" stroke-width="0.6"/>
<circle cx="626.30" cy="710.40" r="1.45" fill="rgba(0,0,0,0.45)" stroke="rgba(0,0,0,0.45)" stroke-width="0.6"/>
<circle cx="620.00" cy="712.00" r="1.45" fill="rgba(0,0,0,0.45)" stroke="rgba(0,0,0,0.45)" stroke-width="0.6"/>
<circle cx="628.00" cy="712.00" r="1.45" fill="rgba(0,0,0,0.45)" stroke="rgba(0,0,0,0.45)" stroke-width="0.6"/>
<path d="M437.4,426.5 V419.5 H499.5 V426.5" fill="none" stroke="#222" stroke-width="1.0"/>
<text x="468.10" y="416.10" font-size="8.8" text-anchor="middle" font-weight="normal" fill="#222" stroke="#222" stroke-width="0.25">0.0014</text>
<text x="468.50" y="410.30" font-size="7.6" text-anchor="middle" font-weight="500" fill="#333" letter-spacing="0.35" stroke="#333" stroke-width="0.15">**</text>
<path d="M437.4,453.6 V446.6 H561.4 V453.6" fill="none" stroke="#222" stroke-width="1.0"/>
<text x="499.20" y="443.90" font-size="8.8" text-anchor="middle" font-weight="normal" fill="#222" stroke="#222" stroke-width="0.25">5e-05</text>
<text x="499.60" y="437.60" font-size="7.6" text-anchor="middle" font-weight="500" fill="#333" letter-spacing="0.35" stroke="#333" stroke-width="0.15">****</text>
<path d="M499.4,481.5 V474.3 H623.4 V481.5" fill="none" stroke="#222" stroke-width="1.0"/>
<text x="561.30" y="471.40" font-size="8.8" text-anchor="middle" font-weight="normal" fill="#222" stroke="#222" stroke-width="0.25">4.4e-09</text>
<text x="561.60" y="464.90" font-size="7.6" text-anchor="middle" font-weight="500" fill="#333" letter-spacing="0.35" stroke="#333" stroke-width="0.15">****</text>
<text x="374.10" y="566.90" font-size="8.8" text-anchor="middle" font-weight="bold" fill="#000" transform="rotate(-90 374.1 566.9)">Overlap Enrichment (-log10 pval)</text>
<g transform="translate(436.98 758.05) rotate(-25)"><text x="0.00" y="0.00" font-size="8.7" text-anchor="middle" font-weight="normal" fill="#333" stroke="#333" stroke-width="0.25">Brain KDs (Common</text><text x="0.00" y="9.00" font-size="8.7" text-anchor="middle" font-weight="normal" fill="#333" stroke="#333" stroke-width="0.25">Overlap Values)</text></g>
<g transform="translate(498.98 758.05) rotate(-25)"><text x="0.00" y="0.00" font-size="8.7" text-anchor="middle" font-weight="normal" fill="#333" stroke="#333" stroke-width="0.25">Brain KDs (Rare</text><text x="0.00" y="9.00" font-size="8.7" text-anchor="middle" font-weight="normal" fill="#333" stroke="#333" stroke-width="0.25">Overlap Values)</text></g>
<g transform="translate(561.08 758.05) rotate(-25)"><text x="0.00" y="0.00" font-size="8.7" text-anchor="middle" font-weight="normal" fill="#333" stroke="#333" stroke-width="0.25">Periphery KDs (Common</text><text x="0.00" y="9.00" font-size="8.7" text-anchor="middle" font-weight="normal" fill="#333" stroke="#333" stroke-width="0.25">Overlap Values)</text></g>
<g transform="translate(623.08 758.05) rotate(-25)"><text x="0.00" y="0.00" font-size="8.7" text-anchor="middle" font-weight="normal" fill="#333" stroke="#333" stroke-width="0.25">Periphery KDs (Rare</text><text x="0.00" y="9.00" font-size="8.7" text-anchor="middle" font-weight="normal" fill="#333" stroke="#333" stroke-width="0.25">Overlap Values)</text></g>
</svg>
</body></html>
